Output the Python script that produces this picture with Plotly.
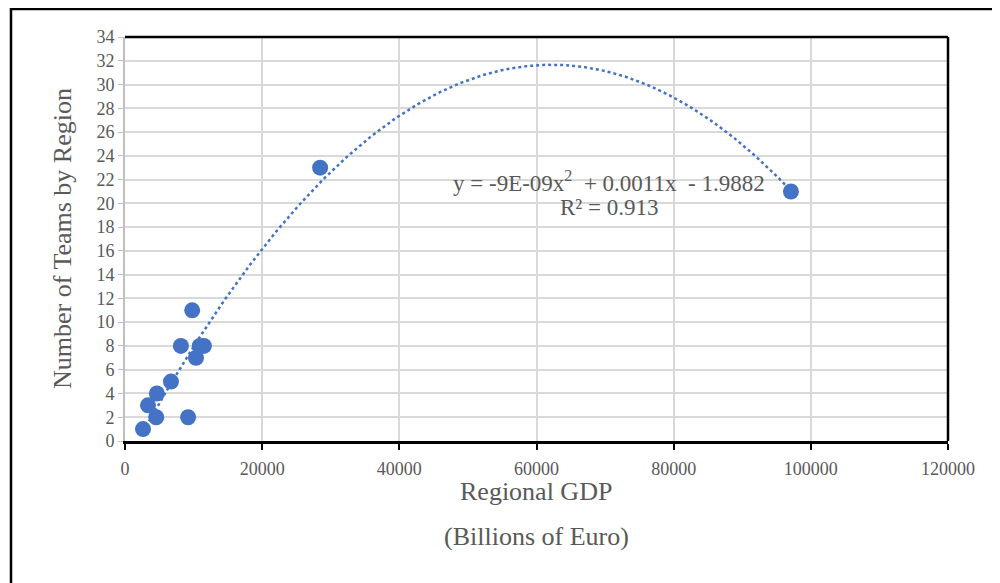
import numpy as np
import plotly.graph_objects as go

# Data
gdp = [2625, 3350, 4550, 4650, 6700, 8150, 9200, 9800, 10350, 10900, 11500, 28450, 97100]
teams = [1, 3, 2, 4, 5, 8, 2, 11, 7, 8, 8, 23, 21]

x_ticks = [0, 20000, 40000, 60000, 80000, 100000, 120000]
y_ticks = list(range(0, 35, 2))

equation_text = "y = -9E-09x<sup>2</sup>  + 0.0011x  - 1.9882"
r2_text = "R² = 0.913"
title_text = "<b>Figure 6. Number of Teams by Region and Regional GDP</b>"

BLUE = "#4472C4"
GRAY = "#595959"
FONT = "Liberation Serif"

# Polynomial (order 2) trendline fitted to the data
coef = np.polyfit(gdp, teams, 2)
xs = np.linspace(min(gdp), max(gdp), 300)
ys = np.polyval(coef, xs)

fig = go.Figure()
fig.add_trace(go.Scatter(x=xs, y=ys, mode="lines",
                         line=dict(color=BLUE, width=2.5, dash="dot"),
                         hoverinfo="skip", showlegend=False))
fig.add_trace(go.Scatter(x=gdp, y=teams, mode="markers",
                         marker=dict(color=BLUE, size=16, line=dict(width=0)),
                         showlegend=False))

OFF = 8  # page body margin
W, H = 992, 575
PL, PR, PT, PB = 125, 948, 37, 441  # plot area in page pixels
L, R, T, B = PL - OFF, W - (PR - OFF), PT - OFF, H - (PB - OFF)
pw, ph = W - L - R, H - T - B

def px(xp):
    return (xp - OFF - L) / pw

def py(yp):
    return (H - B - (yp - OFF)) / ph

def ann(text, x, y, size, color=GRAY, **kw):
    d = dict(text=text, x=px(x), y=py(y), xref="paper", yref="paper",
             xanchor="center", yanchor="middle", showarrow=False,
             font=dict(size=size, color=color, family=FONT))
    d.update(kw)
    return d

fig.update_layout(
    width=W, height=H,
    margin=dict(l=L, r=R, t=T, b=B),
    paper_bgcolor="white", plot_bgcolor="white",
    font=dict(family=FONT, color=GRAY, size=18),
    xaxis=dict(range=[0, 120000], tickvals=x_ticks, ticktext=[str(v) for v in x_ticks],
               showgrid=True, gridcolor="#d9d9d9", gridwidth=2,
               showline=True, linecolor="black", linewidth=2.5,
               ticks="outside", tickcolor="black", ticklen=6, tickwidth=1.5,
               ticklabelstandoff=4,
               zeroline=False, tickfont=dict(size=18, color=GRAY, family=FONT)),
    yaxis=dict(range=[0, 34], tickvals=y_ticks,
               showgrid=True, gridcolor="#d9d9d9", gridwidth=2,
               showline=True, linecolor="#bfbfbf", linewidth=2,
               ticks="outside", tickcolor="#bfbfbf", ticklen=5,
               zeroline=False, tickfont=dict(size=18, color=GRAY, family=FONT)),
    shapes=[
        dict(type="line", xref="paper", yref="paper", x0=0, x1=1, y0=1, y1=1,
             line=dict(color="black", width=2.5)),
        dict(type="line", xref="paper", yref="paper", x0=1, x1=1, y0=0, y1=1,
             line=dict(color="black", width=2.5)),
        dict(type="rect", xref="paper", yref="paper",
             x0=px(11), x1=px(997), y0=py(620), y1=py(9),
             line=dict(color="black", width=2.5), fillcolor="rgba(0,0,0,0)", layer="below"),
    ],
    annotations=[
        ann(equation_text, 609, 181, 23),
        ann(r2_text, 609, 207, 23),
        ann("Number of Teams by Region", 62, 239, 26, textangle=-90),
        ann("Regional GDP", 536, 492, 26),
        ann("(Billions of Euro)", 536, 536, 26),
        ann(title_text, 100, 4, 20, color="black", xanchor="left", yanchor="bottom"),
    ],
)

fig.write_html("out.html")
